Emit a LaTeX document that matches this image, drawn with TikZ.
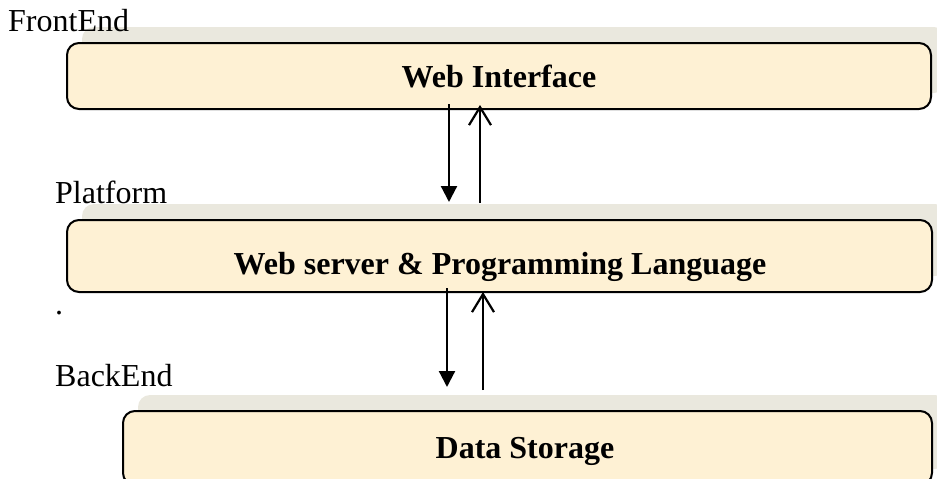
\documentclass[tikz,border=0pt]{standalone}
\usepackage{fontspec}
\setmainfont{Liberation Serif}
\usetikzlibrary{arrows.meta,shadows,calc}
\definecolor{parchment}{RGB}{254,241,212}
\definecolor{bandgrey}{RGB}{234,232,222}
\begin{document}
\begin{tikzpicture}[x=1pt,y=-1pt,
  tier/.style={draw=black, line width=2pt, rounded corners=12pt, fill=parchment,
    inner sep=0pt, general shadow={fill=bandgrey, shadow xshift=15pt, shadow yshift=16pt}},
  tiertext/.style={font=\fontsize{32}{38}\selectfont\bfseries, anchor=base, inner sep=0pt},
  layer/.style={font=\fontsize{32}{38}\selectfont, anchor=base west, inner sep=0pt},
  flow/.style={line width=2.2pt},
  down/.style={flow, -{Triangle[width=16pt,length=16pt]}},
  up/.style={flow, -{Straight Barb[width=22pt,length=18pt,line width=2.2pt]}}]
\useasboundingbox (0,0) rectangle (937,479);
\clip (0,0) rectangle (937,479);

% three tiers
\node[tier, minimum width=864pt, minimum height=66pt] (web) at (499,76) {};
\node[tier, minimum width=865pt, minimum height=72pt] (server) at (499.5,256) {};
\node[tier, minimum width=809pt, minimum height=74pt] (store) at (527.5,448) {};

% tier captions
\node[tiertext] (webtxt) at (499,87) {Web Interface};
\node[tiertext] (servertxt) at (500,274) {Web server \& Programming Language};
\node[tiertext] (storetxt) at (525,458) {Data Storage};

% layer names
\node[layer] (frontend) at (8,31) {FrontEnd};
\node[layer] (platform) at (55,203) {Platform};
\node[layer] (dot) at (55,314) {.};
\node[layer] (backend) at (55,386) {BackEnd};

% request / response arrows
\coordinate (d1) at ($(web.south)+(-50,-6)$);
\coordinate (u1) at ($(web.south)+(-19,-5)$);
\draw[down] (d1) -- ($(d1 |- server.north)+(0,-17)$);
\draw[up] ($(u1 |- server.north)+(0,-16)$) -- (u1);

\coordinate (d2) at ($(server.south)+(-52.5,-5)$);
\coordinate (u2) at ($(server.south)+(-16.5,-1)$);
\draw[down] (d2) -- ($(d2 |- store.north)+(0,-23)$);
\draw[up] ($(u2 |- store.north)+(0,-20)$) -- (u2);
\end{tikzpicture}
\end{document}
